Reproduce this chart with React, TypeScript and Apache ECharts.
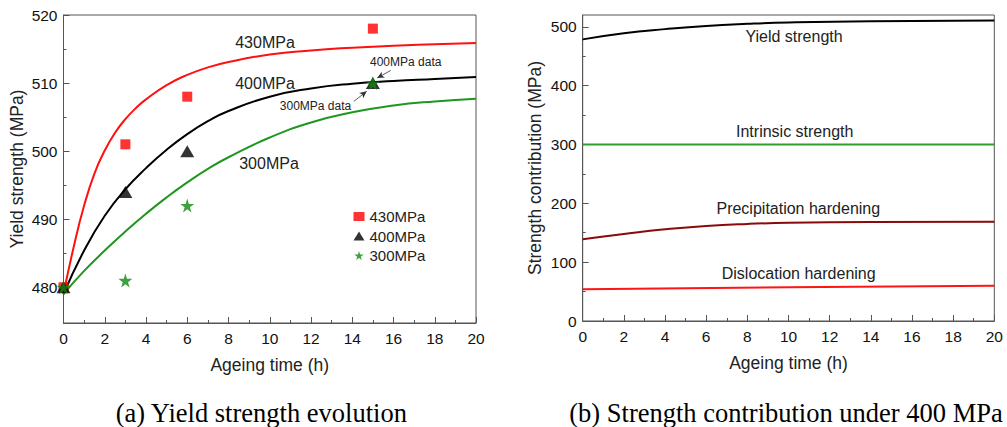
import React, { useEffect, useRef } from "react";
import * as echarts from "echarts";

// ---------- Data ----------
// Panel (a): model curves
const fit430X = [0, 0.5, 1, 1.5, 2, 2.5, 3, 3.5, 4, 5, 6, 7, 8, 10, 12, 14, 16, 18, 20];
const fit430Y = [479.0, 486.0, 492.0, 496.7, 500.1, 502.7, 504.7, 506.3, 507.6, 509.7, 511.2, 512.3, 513.1, 514.2, 514.8, 515.2, 515.5, 515.7, 515.9];
const fit400X = [0, 1, 2, 3, 4, 5, 6, 7, 8, 10, 12, 14, 16, 18, 20];
const fit400Y = [479.0, 485.4, 490.5, 494.4, 497.5, 500.2, 502.5, 504.4, 505.9, 508.0, 509.2, 509.9, 510.3, 510.6, 510.9];
const fit300X = [0, 1, 2, 3, 4, 5, 6, 7, 8, 10, 12, 14, 16, 18, 20];
const fit300Y = [479.0, 482.4, 485.4, 488.2, 490.8, 493.2, 495.4, 497.4, 499.1, 502.0, 504.2, 505.7, 506.7, 507.3, 507.7];

// Panel (a): experimental data
const expTimes = [0, 3, 6, 15];
const exp430 = [480, 501, 508, 518];
const exp400 = [480, 494, 500, 510];
const exp300 = [480, 481, 492, 510];

// Panel (b): strength contributions under 400 MPa
const contribX = [0, 2, 4, 6, 8, 10, 14, 20];
const yieldStrength = [478.6, 489.0, 496.0, 501.5, 505.0, 507.3, 509.5, 510.5];
const precipitation = [138.8, 147.8, 155.8, 161.6, 165.0, 166.9, 168.3, 168.8];
const dislocationX = [0, 10, 20];
const dislocation = [53.9, 57.2, 60.0];
const intrinsicX = [0, 20];
const intrinsic = [300, 300];

// Tick values
const leftYMajor = [480, 490, 500, 510, 520];
const leftYMinor = [485, 495, 505, 515];
const rightYMajor = [0, 100, 200, 300, 400, 500];
const rightYMinor = [50, 150, 250, 350, 450];

const zip = (xs: number[], ys: number[]) => xs.map((x, i) => [x, ys[i]]);

const STAR = "path://M50,0 L61,35 L98,35 L68,57 L79,91 L50,70 L21,91 L32,57 L2,35 L39,35 Z";
const SANS = "'Liberation Sans', Arial, sans-serif";
const SERIF = "'Liberation Serif', 'Times New Roman', serif";
const AXIS_COLOR = "#555";

export default function App() {
  const ref = useRef<HTMLDivElement>(null);
  useEffect(() => {
    if (!ref.current) return;
    const chart = echarts.init(ref.current, undefined, { renderer: "svg" });

    const xAxisBase = (gridIndex: number) => ({
      type: "value" as const,
      gridIndex,
      min: 0,
      max: 20,
      interval: 2,
      name: "Ageing time (h)",
      nameLocation: "middle" as const,
      nameGap: 33,
      nameTextStyle: { fontFamily: SANS, fontSize: 17.5, color: "#222" },
      axisLine: { show: true, lineStyle: { color: AXIS_COLOR, width: 1 } },
      axisTick: { show: true, inside: true, length: 6, lineStyle: { color: AXIS_COLOR } },
      minorTick: { show: true, splitNumber: 2, length: 3, lineStyle: { color: AXIS_COLOR } },
      axisLabel: { fontFamily: SANS, fontSize: 15.5, color: "#111", margin: 7 },
      splitLine: { show: false },
    });

    const yMain = (gridIndex: number, min: number, max: number, major: number[], name: string, gap: number) => ({
      type: "value" as const,
      gridIndex,
      min,
      max,
      position: "left" as const,
      name,
      nameLocation: "middle" as const,
      nameGap: gap,
      nameTextStyle: { fontFamily: SANS, fontSize: 17.5, color: "#222" },
      axisLine: { show: true, lineStyle: { color: AXIS_COLOR, width: 1 } },
      axisTick: { show: true, inside: true, length: 6, customValues: major, lineStyle: { color: AXIS_COLOR } },
      axisLabel: { fontFamily: SANS, fontSize: 15.5, color: "#111", margin: 6, customValues: major },
      splitLine: { show: false },
    });

    const yMinor = (gridIndex: number, min: number, max: number, minor: number[]) => ({
      type: "value" as const,
      gridIndex,
      min,
      max,
      position: "left" as const,
      axisLine: { show: false },
      axisTick: { show: true, inside: true, length: 3, customValues: minor, lineStyle: { color: AXIS_COLOR } },
      axisLabel: { show: false, customValues: minor },
      splitLine: { show: false },
    });

    const lineSeries = (name: string, xi: number, yi: number, data: number[][], color: string, width = 2) => ({
      type: "line" as const,
      name,
      xAxisIndex: xi,
      yAxisIndex: yi,
      data,
      smooth: 0.5,
      showSymbol: false,
      symbol: "none",
      lineStyle: { color, width },
      itemStyle: { color },
      z: 2,
    });

    const textG = (text: string, x: number, y: number, fontSize: number, font = SANS, color = "#222") => ({
      type: "text" as const,
      x,
      y,
      style: {
        text,
        fontFamily: font,
        fontSize,
        fill: color,
        textAlign: "center",
        textVerticalAlign: "middle",
      },
      z: 10,
    });

    chart.setOption({
      animation: false,
      backgroundColor: "#fff",
      grid: [
        { left: 63.5, top: 15, width: 412.5, height: 308, show: true, borderColor: AXIS_COLOR, borderWidth: 1, backgroundColor: "transparent" },
        { left: 582.7, top: 15, width: 411.6, height: 306, show: true, borderColor: AXIS_COLOR, borderWidth: 1, backgroundColor: "transparent" },
      ],
      xAxis: [xAxisBase(0), xAxisBase(1)],
      yAxis: [
        yMain(0, 474.75, 520, leftYMajor, "Yield strength (MPa)", 38),
        yMinor(0, 474.75, 520, leftYMinor),
        yMain(1, 0, 520, rightYMajor, "Strength contribution (MPa)", 39),
        yMinor(1, 0, 520, rightYMinor),
      ],
      legend: {
        show: true,
        orient: "vertical",
        left: 348.5,
        top: 204,
        itemWidth: 11,
        itemHeight: 9,
        itemGap: 4.5,
        data: ["430MPa", "400MPa", "300MPa"],
        textStyle: { fontFamily: SANS, fontSize: 15, color: "#222", lineHeight: 15 },
      },
      series: [
        lineSeries("430MPa model", 0, 0, zip(fit430X, fit430Y), "#ff1010"),
        lineSeries("400MPa model", 0, 0, zip(fit400X, fit400Y), "#000000"),
        {
          ...lineSeries("300MPa model", 0, 0, zip(fit300X, fit300Y), "#1f961f"),
          markLine: {
            silent: true,
            symbol: ["none", "arrow"],
            symbolSize: [5, 7],
            label: { show: false },
            lineStyle: { color: "#333", width: 0.8, type: "solid" },
            data: [
              [{ coord: [15.87, 511.86] }, { coord: [15.21, 510.75] }],
              [{ coord: [14.08, 507.32] }, { coord: [14.7, 508.78] }],
            ],
          },
        },
        {
          type: "scatter",
          name: "430MPa",
          xAxisIndex: 0,
          yAxisIndex: 0,
          data: zip(expTimes, exp430),
          symbol: "rect",
          symbolSize: 10,
          itemStyle: { color: "#ff0000" },
          z: 3,
        },
        {
          type: "scatter",
          name: "400MPa",
          xAxisIndex: 0,
          yAxisIndex: 0,
          data: zip(expTimes, exp400),
          symbol: "triangle",
          symbolSize: [14, 12],
          itemStyle: { color: "#000000" },
          z: 4,
        },
        {
          type: "scatter",
          name: "300MPa",
          xAxisIndex: 0,
          yAxisIndex: 0,
          data: zip(expTimes, exp300),
          symbol: STAR,
          symbolSize: 14,
          itemStyle: { color: "#108810" },
          z: 5,
        },
        lineSeries("Yield strength", 1, 2, zip(contribX, yieldStrength), "#000000"),
        lineSeries("Intrinsic strength", 1, 2, zip(intrinsicX, intrinsic), "#2ea02e"),
        lineSeries("Precipitation hardening", 1, 2, zip(contribX, precipitation), "#8a0a0a"),
        lineSeries("Dislocation hardening", 1, 2, zip(dislocationX, dislocation), "#ff1414"),
      ],
      graphic: [
        textG("430MPa", 265, 42, 16),
        textG("400MPa", 265, 83.5, 16),
        textG("300MPa", 269, 163, 16),
        textG("400MPa data", 405.7, 62.3, 12),
        textG("300MPa data", 315.5, 106, 12),
        textG("Yield strength", 794, 36, 16),
        textG("Intrinsic strength", 794.7, 131.7, 16),
        textG("Precipitation hardening", 798.3, 208.7, 16),
        textG("Dislocation hardening", 798.7, 273.3, 16),
        textG("(a) Yield strength evolution", 261.3, 413, 26.5, SERIF, "#000"),
        textG("(b) Strength contribution under 400 MPa", 786, 413, 26.5, SERIF, "#000"),
      ],
    });

    return () => chart.dispose();
  }, []);

  return (
    <div
      ref={ref}
      style={{ position: "fixed", left: 0, top: 0, width: 1007, height: 427, background: "#fff" }}
    />
  );
}
